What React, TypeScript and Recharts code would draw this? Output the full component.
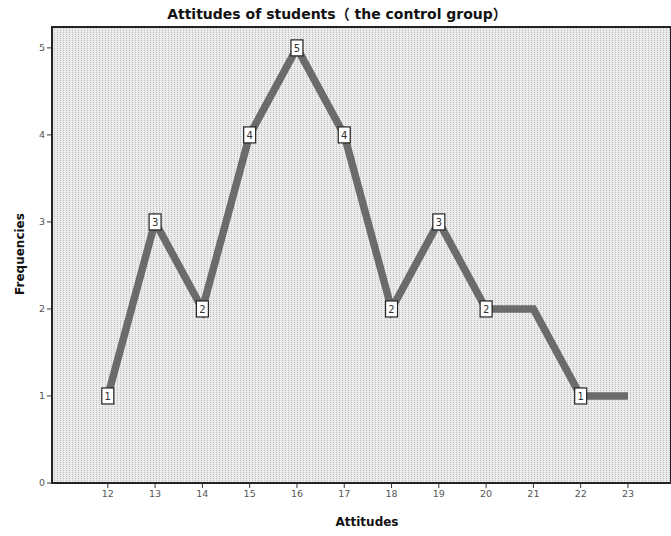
import React from 'react';
import {
  LineChart,
  Line,
  XAxis,
  YAxis,
  ReferenceArea,
  LabelList,
} from 'recharts';

const attitudes = [12, 13, 14, 15, 16, 17, 18, 19, 20, 21, 22, 23];
const frequencies = [1, 3, 2, 4, 5, 4, 2, 3, 2, 2, 1, 1];
// SPSS left the label off where the line stays flat
const pointLabels = ['1', '3', '2', '4', '5', '4', '2', '3', '2', null, '1', null];
const yTicks = [0, 1, 2, 3, 4, 5];

const X_MIN = 10.82;
const X_MAX = 23.91;
const Y_MAX = 5.24;

const data = attitudes.map((a, i) => ({
  attitude: a,
  freq: frequencies[i],
  label: pointLabels[i],
}));

const font = '"DejaVu Sans", Verdana, sans-serif';
const titleFont = '"DejaVu Sans", "Noto Sans CJK SC", sans-serif';

function BoxLabel(props: any) {
  const { x, y, value } = props;
  if (value === null || value === undefined) return null;
  return (
    <g>
      <rect x={x - 6} y={y - 8} width={12} height={16} fill="#fff" stroke="#222" strokeWidth={1.2} />
      <text x={x} y={y + 4} textAnchor="middle" fontSize={10} fontFamily={font} fill="#333">
        {value}
      </text>
    </g>
  );
}

export default function App() {
  return (
    <div style={{ position: 'fixed', left: 0, top: 0, width: 671, height: 536, background: '#fff', overflow: 'hidden' }}>
      <LineChart
        width={671}
        height={536}
        data={data}
        margin={{ top: 27, right: 0, bottom: 0, left: 0 }}
      >
        <defs>
          <pattern id="dots" width="3" height="2" patternUnits="userSpaceOnUse">
            <rect width="3" height="2" fill="#ebebeb" />
            <rect x="0" y="0" width="1" height="1" fill="#bcbcbc" />
          </pattern>
        </defs>
        <XAxis
          dataKey="attitude"
          type="number"
          domain={[X_MIN, X_MAX]}
          ticks={attitudes}
          height={53}
          axisLine={{ stroke: '#222', strokeWidth: 2 }}
          tickLine={{ stroke: '#333' }}
          tickSize={5}
          tick={{ fontSize: 9.5, fill: '#555', fontFamily: font }}
          interval={0}
        />
        <YAxis
          type="number"
          domain={[0, Y_MAX]}
          ticks={yTicks}
          width={52}
          axisLine={{ stroke: '#222', strokeWidth: 2 }}
          tickLine={{ stroke: '#333' }}
          tickSize={5}
          tick={{ fontSize: 9.5, fill: '#555', fontFamily: font }}
        />
        <ReferenceArea
          x1={X_MIN}
          x2={X_MAX}
          y1={0}
          y2={Y_MAX}
          fill="url(#dots)"
          fillOpacity={1}
          stroke="#222"
          strokeWidth={2}
          ifOverflow="visible"
        />
        <Line
          type="linear"
          dataKey="freq"
          stroke="#6b6b6b"
          strokeWidth={7.5}
          dot={false}
          activeDot={false}
          isAnimationActive={false}
        >
          <LabelList dataKey="label" content={<BoxLabel />} />
        </Line>
      </LineChart>
      <div
        style={{
          position: 'absolute',
          top: 3,
          left: 137,
          width: 400,
          textAlign: 'center',
          whiteSpace: 'nowrap',
          fontFamily: titleFont,
          fontWeight: 'bold',
          fontSize: 14,
          color: '#111',
        }}
      >
        Attitudes of students（ the control group）
      </div>
      <div
        style={{
          position: 'absolute',
          top: 515,
          left: 307,
          width: 120,
          textAlign: 'center',
          fontFamily: font,
          fontWeight: 'bold',
          fontSize: 12,
          color: '#111',
        }}
      >
        Attitudes
      </div>
      <div
        style={{
          position: 'absolute',
          top: 247,
          left: -40,
          width: 120,
          textAlign: 'center',
          fontFamily: font,
          fontWeight: 'bold',
          fontSize: 12,
          color: '#111',
          transform: 'rotate(-90deg)',
        }}
      >
        Frequencies
      </div>
    </div>
  );
}
